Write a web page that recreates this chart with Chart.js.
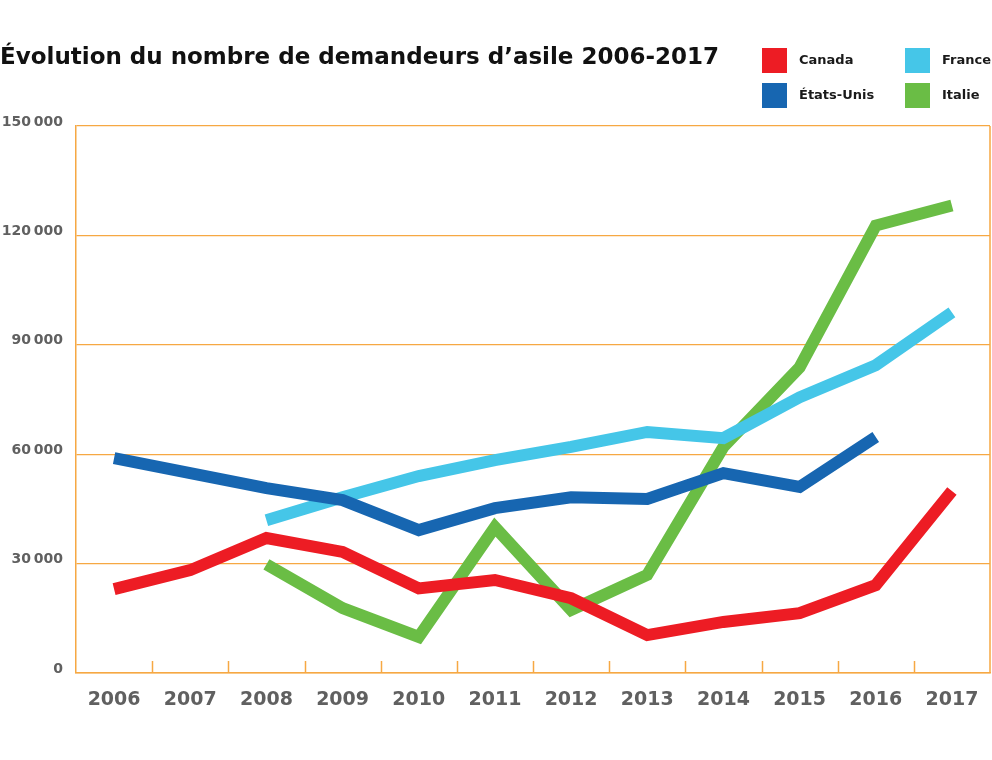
<!DOCTYPE html>
<html lang="fr">
<head>
<meta charset="utf-8">
<title>Demandeurs d'asile 2006-2017</title>
<script src="https://cdn.jsdelivr.net/npm/chart.js@4/dist/chart.umd.min.js"></script>
<style>
    html, body { margin: 0; padding: 0; background: #fff; }
    #wrap { position: relative; width: 992px; height: 760px; }
    #chart { position: absolute; left: 0; top: 0; }
    #title {
        position: absolute; left: 0; top: 43px;
        font-family: "DejaVu Sans", sans-serif; font-weight: bold;
        font-size: 23px; color: #111; white-space: nowrap;
    }
    .leg { position: absolute; font-family: "DejaVu Sans", sans-serif; font-weight: bold; font-size: 13px; color: #1a1a1a; }
    .leg span.sw { position: absolute; left: 0; top: 0; width: 25px; height: 25px; }
    .leg span.tx { position: absolute; left: 37px; top: 4px; white-space: nowrap; }
</style>
</head>
<body>
<div id="wrap">
    <canvas id="chart" width="992" height="760"></canvas>
    <div id="title">Évolution du nombre de demandeurs d’asile 2006-2017</div>
    <div id="legend"></div>
</div>
<script>
// Categories
const years = ['2006', '2007', '2008', '2009', '2010', '2011', '2012', '2013', '2014', '2015', '2016', '2017'];

// Series values
const canada = [23000, 28200, 37000, 33200, 23200, 25500, 20500, 10400, 14000, 16400, 24100, 49900];
const etatsUnis = [58900, 54800, 50700, 47400, 39200, 45200, 48200, 47700, 54800, 51000, 64700, null];
const france = [null, null, 41900, 48200, 54000, 58400, 62000, 66100, 64400, 75600, 84400, 98900];
const italie = [null, null, 29800, 17800, 9900, 40000, 17300, 26900, 62000, 83800, 122700, 128200];

// Y axis ticks
const yTicks = [0, 30000, 60000, 90000, 120000, 150000];

const seriesNames = ['Canada', 'États-Unis', 'France', 'Italie'];
const seriesColors = ['#ed1c24', '#1766b1', '#45c6e8', '#6abd45'];

const orange = '#f6a843';

// Legend (two columns)
function buildLegend() {
    const legend = document.getElementById('legend');
    const pos = [
        { left: 762, top: 48 },
        { left: 762, top: 83 },
        { left: 905, top: 48 },
        { left: 905, top: 83 }
    ];
    seriesNames.forEach((name, i) => {
        const div = document.createElement('div');
        div.className = 'leg';
        div.style.left = pos[i].left + 'px';
        div.style.top = pos[i].top + 'px';
        div.innerHTML = `<span class="sw" style="background:${seriesColors[i]}"></span><span class="tx">${name}</span>`;
        legend.appendChild(div);
    });
}

// Short inner ticks between years + right border
const frameTicks = {
    id: 'frameTicks',
    beforeDatasetsDraw(chart) {
        const ctx = chart.ctx;
        const xs = chart.scales.x;
        const area = chart.chartArea;
        ctx.save();
        ctx.strokeStyle = orange;
        ctx.lineWidth = 1.5;
        ctx.beginPath();
        for (let i = 1; i < years.length; i++) {
            const x = Math.round((xs.getPixelForValue(i - 1) + xs.getPixelForValue(i)) / 2) + 0.5;
            ctx.moveTo(x, area.bottom - 12);
            ctx.lineTo(x, area.bottom);
        }
        ctx.moveTo(area.right, area.top);
        ctx.lineTo(area.right, area.bottom);
        ctx.stroke();
        ctx.restore();
    }
};

function formatTick(value) {
    if (value === 0) return '0';
    const s = String(value);
    return s.slice(0, s.length - 3) + '\u2009' + s.slice(-3);
}

function createChart() {
    const ctx = document.getElementById('chart').getContext('2d');
    const data = [canada, etatsUnis, france, italie];

    new Chart(ctx, {
        type: 'line',
        data: {
            labels: years,
            datasets: seriesNames.map((name, i) => ({
                label: name,
                data: data[i],
                borderColor: seriesColors[i],
                backgroundColor: seriesColors[i],
                borderWidth: 12,
                borderJoinStyle: 'miter',
                borderCapStyle: 'butt',
                pointRadius: 0,
                tension: 0,
                spanGaps: false
            }))
        },
        options: {
            responsive: false,
            animation: false,
            events: [],
            layout: { padding: { top: 126, right: 2, left: 0, bottom: 0 } },
            plugins: {
                legend: { display: false },
                title: { display: false },
                tooltip: { enabled: false }
            },
            scales: {
                x: {
                    offset: true,
                    grid: { display: false, drawTicks: false },
                    border: { display: true, color: orange, width: 1.5 },
                    ticks: {
                        padding: 16,
                        color: '#606060',
                        font: { family: 'DejaVu Sans', weight: 'bold', size: 19 }
                    },
                    afterFit(scale) {
                        scale.height = 87;
                        scale.paddingLeft = 0;
                        scale.paddingRight = 0;
                    }
                },
                y: {
                    min: 0,
                    max: 150000,
                    afterBuildTicks(scale) {
                        scale.ticks = yTicks.map(v => ({ value: v }));
                    },
                    grid: { color: orange, lineWidth: 1.2, drawTicks: false },
                    border: { display: true, color: orange, width: 1.5 },
                    ticks: {
                        padding: 13,
                        labelOffset: -4,
                        color: '#606060',
                        font: { family: 'DejaVu Sans', weight: 'bold', size: 14 },
                        callback: function(value) {
                            return formatTick(value);
                        }
                    },
                    afterFit(scale) { scale.width = 76; }
                }
            }
        },
        plugins: [frameTicks]
    });
}

buildLegend();
createChart();
</script>
</body>
</html>
